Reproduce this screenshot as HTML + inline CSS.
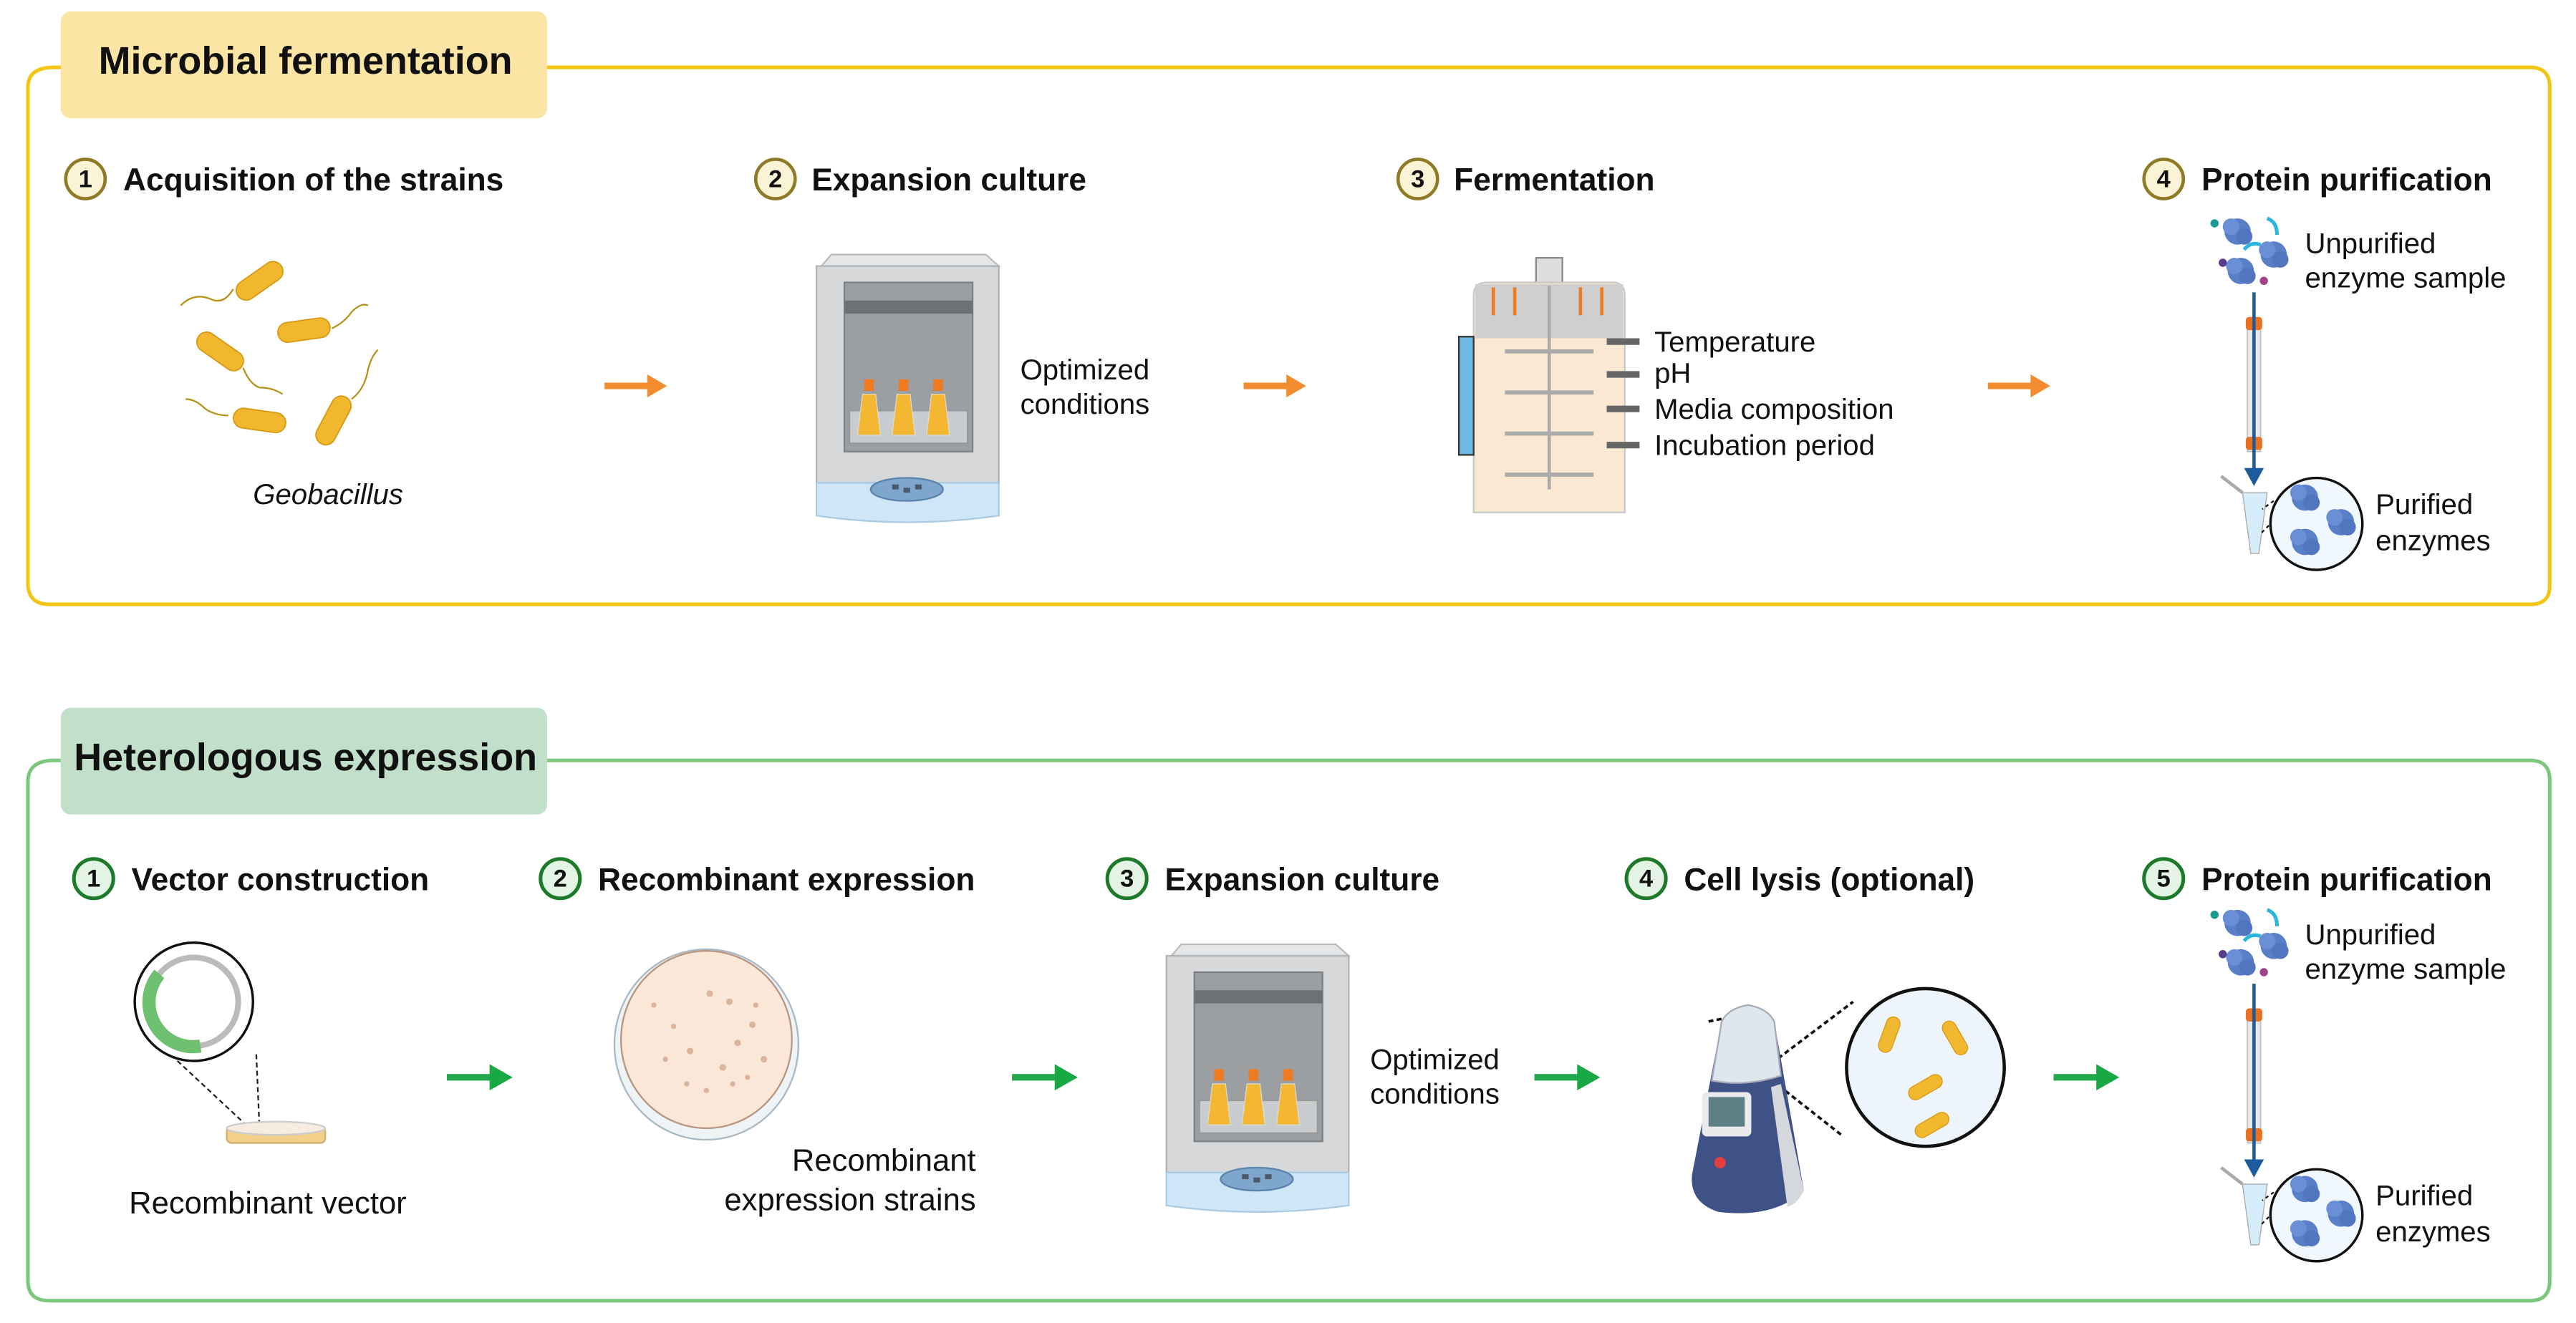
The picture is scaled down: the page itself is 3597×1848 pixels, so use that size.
<!DOCTYPE html>
<html><head><meta charset="utf-8"><style>
html,body{margin:0;padding:0;background:#fff;width:3597px;height:1848px;overflow:hidden}
svg{display:block}
text{font-family:"Liberation Sans",Arial,sans-serif;fill:#111}
.h{font-weight:bold;font-size:19.3px}
.t{font-size:17.5px}
.b{font-size:19px}
.n{font-weight:bold;font-size:15px;text-anchor:middle}
</style></head><body>
<svg width="3597" height="1848" viewBox="0 0 1568 805.6" preserveAspectRatio="none" xmlns="http://www.w3.org/2000/svg">
<defs>
 <g id="incub">
  <path d="M500,162 L506,155 L600,155 L608,162 Z" fill="#e4e6e8" stroke="#b9bcbf"/>
  <rect x="497" y="162" width="111" height="132" fill="#d6d8da" stroke="#b0b3b6"/>
  <rect x="514" y="172" width="78" height="103" fill="#9b9fa2" stroke="#7d8184"/>
  <rect x="514" y="183" width="78" height="8" fill="#6d7174"/>
  <rect x="517" y="250" width="72" height="20" fill="#c9ccce" stroke="#999"/>
  <g fill="#f4b731" stroke="#ddd" stroke-width="0.5">
   <path d="M525,240 L533,240 L536,265 L522,265 Z"/><path d="M546,240 L554,240 L557,265 L543,265 Z"/><path d="M567,240 L575,240 L578,265 L564,265 Z"/>
  </g>
  <g fill="#ee7b22"><rect x="526" y="231" width="6" height="7"/><rect x="547" y="231" width="6" height="7"/><rect x="568" y="231" width="6" height="7"/></g>
  <path d="M497,294 L608,294 L608,314 Q552,322 497,314 Z" fill="#cfe6f6" stroke="#a9cbe3"/>
  <ellipse cx="552" cy="298" rx="22" ry="7" fill="#7fa6cc" stroke="#5a83ad"/>
  <g fill="#4b5a6b"><rect x="543" y="295" width="4" height="3"/><rect x="550" y="297" width="4" height="3"/><rect x="557" y="295" width="4" height="3"/></g>
 </g>
 <g id="blob"><circle r="8" fill="#5a7fc9"/><circle cx="-4" cy="-3" r="5" fill="#6b8fd6"/><circle cx="4" cy="3" r="5" fill="#5275c0"/></g>
 <g id="purif">
  <circle cx="1348" cy="136" r="2.5" fill="#1a9a92"/>
  <use href="#blob" x="1362" y="141"/><use href="#blob" x="1384" y="155"/><use href="#blob" x="1364" y="165"/>
  <path d="M1380,133 q6,2 6,10" stroke="#2bb6e0" stroke-width="2.2" fill="none"/>
  <path d="M1366,152 q4,-5 10,-3" stroke="#2bb6e0" stroke-width="2.2" fill="none"/>
  <circle cx="1353" cy="160" r="2.5" fill="#5a3d8a"/><circle cx="1378" cy="171" r="2.5" fill="#a0448a"/>
  <rect x="1368" y="195" width="8" height="80" fill="#e8e8e8" stroke="#bbb" stroke-width="0.7"/>
  <rect x="1367" y="193" width="10" height="8" rx="2" fill="#e8701f"/>
  <rect x="1367" y="266" width="10" height="8" rx="2" fill="#e8701f"/>
  <line x1="1372" y1="178" x2="1372" y2="288" stroke="#1d5c9c" stroke-width="2"/>
  <path d="M1366,285 L1378,285 L1372,296 Z" fill="#1d5c9c"/>
  <path d="M1365,300 L1380,300 L1375,337 L1370,337 Z" fill="#d6ecf8" stroke="#aaa" stroke-width="0.6"/>
  <path d="M1365,300 L1352,290" stroke="#aaa" stroke-width="2" fill="none"/>
  <circle cx="1410" cy="319" r="28" fill="#f1f8fd" stroke="#111" stroke-width="1.5"/>
  <path d="M1384,305 L1377,310 M1381,320 L1376,325" stroke="#111" stroke-dasharray="2,2"/>
  <use href="#blob" x="1403" y="303"/><use href="#blob" x="1425" y="318"/><use href="#blob" x="1403" y="330"/>
 </g>
 <g id="oarr"><path d="M0,0 L28,0" stroke="#f28c2e" stroke-width="4"/><path d="M26,-7 L38,0 L26,7 Z" fill="#f28c2e"/></g>
 <g id="garr"><path d="M0,0 L28,0" stroke="#20a84a" stroke-width="4"/><path d="M26,-8 L40,0 L26,8 Z" fill="#18a844"/></g>
 <g id="bact"><rect x="-16" y="-6" width="32" height="12" rx="6" fill="#f1b72f" stroke="#d69a13" stroke-width="0.8"/></g>
</defs>

<path d="M33,41 L1540,41 Q1552,41 1552,53 L1552,357 Q1552,368 1540,368 L30,368 Q17,368 17,355 L17,53 Q17,41 33,41" fill="none" stroke="#f3c515" stroke-width="2.2"/>
<rect x="37" y="7" width="296" height="65" rx="6" fill="#fae5a5"/>
<text x="60" y="45" style="font-weight:bold;font-size:23.5px">Microbial fermentation</text>

<g fill="#fbf3d6" stroke="#8f7a25" stroke-width="2">
<circle cx="52" cy="109" r="12"/><circle cx="472" cy="109" r="12"/><circle cx="863" cy="109" r="12"/><circle cx="1317" cy="109" r="12"/></g>
<text class="n" x="52" y="114">1</text><text class="n" x="472" y="114">2</text><text class="n" x="863" y="114">3</text><text class="n" x="1317" y="114">4</text>
<text class="h" x="75" y="116">Acquisition of the strains</text>
<text class="h" x="494" y="116">Expansion culture</text>
<text class="h" x="885" y="116">Fermentation</text>
<text class="h" x="1340" y="116">Protein purification</text>

<g stroke="#b8921a" stroke-width="1" fill="none">
<path d="M142,176 q-6,10 -14,6 q-10,-4 -18,4"/><path d="M202,200 q8,-4 12,-10 q6,-6 10,-4"/><path d="M148,224 q4,10 10,12 q8,0 14,4"/><path d="M139,253 q-8,0 -14,-4 q-6,-6 -12,-6"/><path d="M214,243 q8,-6 10,-18 q2,-8 6,-12"/></g>
<use href="#bact" transform="translate(158,171) rotate(-35)"/>
<use href="#bact" transform="translate(185,201) rotate(-8)"/>
<use href="#bact" transform="translate(134,214) rotate(35)"/>
<use href="#bact" transform="translate(158,256) rotate(8)"/>
<use href="#bact" transform="translate(203,256) rotate(-62)"/>
<text class="t" x="154" y="307" style="font-style:italic">Geobacillus</text>

<use href="#oarr" x="368" y="235"/>
<use href="#incub"/>
<text class="t" x="621" y="231">Optimized</text><text class="t" x="621" y="252">conditions</text>
<use href="#oarr" x="757" y="235"/>

<rect x="935" y="157" width="16" height="17" fill="#ddd" stroke="#888"/>
<path d="M897,180 Q897,172 905,172 L982,172 Q989,172 989,180 L989,312 L897,312 Z" fill="#fbe8d3" stroke="#c8c8c8"/>
<rect x="898" y="173" width="90" height="33" fill="#cfcfcf"/>
<g stroke="#ee7b22" stroke-width="2"><line x1="909" y1="175" x2="909" y2="192"/><line x1="922" y1="175" x2="922" y2="192"/><line x1="962" y1="175" x2="962" y2="192"/><line x1="975" y1="175" x2="975" y2="192"/></g>
<line x1="943" y1="174" x2="943" y2="298" stroke="#aaa" stroke-width="2"/>
<g stroke="#aaa" stroke-width="2.5"><line x1="916" y1="214" x2="970" y2="214"/><line x1="916" y1="239" x2="970" y2="239"/><line x1="916" y1="264" x2="970" y2="264"/><line x1="916" y1="289" x2="970" y2="289"/></g>
<rect x="888" y="205" width="9" height="72" fill="#6fb8e3" stroke="#333"/>
<g stroke="#666" stroke-width="4"><line x1="978" y1="208" x2="998" y2="208"/><line x1="978" y1="228" x2="998" y2="228"/><line x1="978" y1="249" x2="998" y2="249"/><line x1="978" y1="271" x2="998" y2="271"/></g>
<text class="t" x="1007" y="214">Temperature</text><text class="t" x="1007" y="233">pH</text><text class="t" x="1007" y="255">Media composition</text><text class="t" x="1007" y="277">Incubation period</text>
<use href="#oarr" x="1210" y="235"/>

<use href="#purif"/>
<text class="t" x="1403" y="154">Unpurified</text><text class="t" x="1403" y="175">enzyme sample</text>
<text class="t" x="1446" y="313">Purified</text><text class="t" x="1446" y="335">enzymes</text>

<path d="M33,463 L1540,463 Q1552,463 1552,475 L1552,780 Q1552,792 1540,792 L30,792 Q17,792 17,780 L17,476 Q17,463 33,463" fill="none" stroke="#7dc77d" stroke-width="2.2"/>
<rect x="37" y="431" width="296" height="65" rx="6" fill="#c2dfca"/>
<text x="45" y="469" style="font-weight:bold;font-size:23.5px">Heterologous expression</text>

<g fill="#e4f4e4" stroke="#1d7a2a" stroke-width="2.2">
<circle cx="57" cy="535" r="12"/><circle cx="341" cy="535" r="12"/><circle cx="686" cy="535" r="12"/><circle cx="1002" cy="535" r="12"/><circle cx="1317" cy="535" r="12"/></g>
<text class="n" x="57" y="540">1</text><text class="n" x="341" y="540">2</text><text class="n" x="686" y="540">3</text><text class="n" x="1002" y="540">4</text><text class="n" x="1317" y="540">5</text>
<text class="h" x="80" y="542">Vector construction</text>
<text class="h" x="364" y="542">Recombinant expression</text>
<text class="h" x="709" y="542">Expansion culture</text>
<text class="h" x="1025" y="542">Cell lysis (optional)</text>
<text class="h" x="1340" y="542">Protein purification</text>

<path d="M108,646 L153,688 M156,642 L158,688" stroke="#222" stroke-dasharray="3,2" fill="none"/>
<circle cx="118" cy="610" r="36" fill="#fff" stroke="#111" stroke-width="1.5"/>
<circle cx="118" cy="610" r="27" fill="none" stroke="#bbb" stroke-width="3.5"/>
<path d="M97,593 A27,27 0 0 0 122,637" fill="none" stroke="#6cc070" stroke-width="8"/>
<rect x="138" y="686" width="60" height="10" rx="3" fill="#f3d08a" stroke="#cfb070"/>
<ellipse cx="168" cy="687" rx="30" ry="4" fill="#f6ecdf" stroke="#ccc"/>
<text class="b" x="163" y="739" text-anchor="middle">Recombinant vector</text>
<use href="#garr" x="272" y="656"/>

<ellipse cx="430" cy="636" rx="56" ry="58" fill="#eef3f6" stroke="#a9b9c4"/>
<ellipse cx="430" cy="633" rx="52" ry="54" fill="#fbe7d8" stroke="#b89580"/>
<g fill="#dcb49c"><circle cx="432" cy="605" r="2"/><circle cx="444" cy="610" r="2"/><circle cx="449" cy="635" r="2"/><circle cx="458" cy="624" r="2"/><circle cx="465" cy="645" r="2"/><circle cx="420" cy="640" r="2"/><circle cx="440" cy="650" r="2"/><circle cx="410" cy="625" r="1.6"/><circle cx="405" cy="645" r="1.6"/><circle cx="418" cy="660" r="1.6"/><circle cx="430" cy="664" r="1.6"/><circle cx="446" cy="660" r="1.6"/><circle cx="455" cy="656" r="1.6"/><circle cx="460" cy="612" r="1.6"/><circle cx="398" cy="612" r="1.6"/></g>
<text class="b" x="594" y="713" text-anchor="end">Recombinant</text><text class="b" x="594" y="737" text-anchor="end">expression strains</text>
<use href="#garr" x="616" y="656"/>

<use href="#incub" transform="translate(213,420)"/>
<text class="t" x="834" y="651">Optimized</text><text class="t" x="834" y="672">conditions</text>
<use href="#garr" x="934" y="656"/>

<path d="M1040,622 L1060,618 L1075,650 L1128,610 M1075,655 L1122,692" stroke="#111" stroke-dasharray="3,2" fill="none" stroke-width="1.6"/>
<path d="M1048,622 Q1052,614 1064,612 Q1076,614 1080,622 L1098,725 Q1080,742 1046,738 Q1028,732 1030,715 Z" fill="#3f5288"/>
<path d="M1048,622 Q1052,614 1064,612 Q1076,614 1080,622 L1084,655 Q1062,662 1042,658 Z" fill="#dfe7ee" stroke="#aab"/>
<path d="M1084,660 L1098,725 Q1094,733 1088,735 L1078,662 Z" fill="#d4d8dc"/>
<rect x="1036" y="665" width="30" height="27" rx="3" fill="#e8eaec"/>
<rect x="1040" y="668" width="22" height="18" fill="#5d7f86"/>
<circle cx="1047" cy="708" r="3.5" fill="#e24040"/>
<circle cx="1172" cy="650" r="48" fill="#edf4fb" stroke="#111" stroke-width="2"/>
<use href="#bact" transform="translate(1150,630) rotate(-70) scale(0.7)"/>
<use href="#bact" transform="translate(1190,632) rotate(60) scale(0.7)"/>
<use href="#bact" transform="translate(1172,662) rotate(-30) scale(0.7)"/>
<use href="#bact" transform="translate(1176,685) rotate(-30) scale(0.7)"/>
<use href="#garr" x="1250" y="656"/>

<use href="#purif" transform="translate(0,421)"/>
<text class="t" x="1403" y="575">Unpurified</text><text class="t" x="1403" y="596">enzyme sample</text>
<text class="t" x="1446" y="734">Purified</text><text class="t" x="1446" y="756">enzymes</text>
</svg>
</body></html>
